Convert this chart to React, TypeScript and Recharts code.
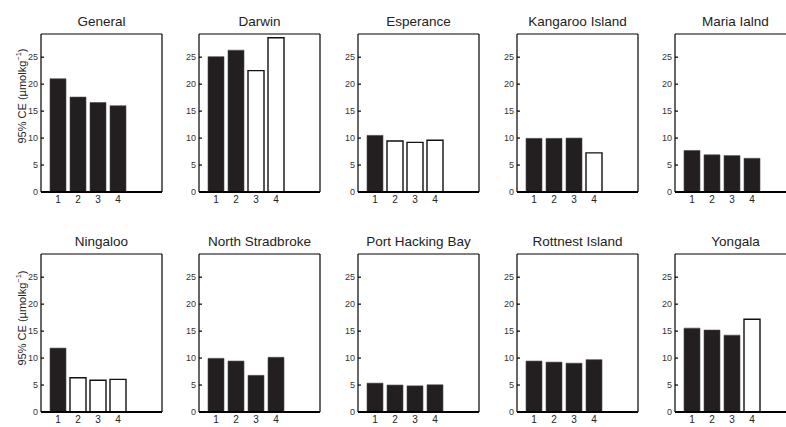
import { Bar, BarChart, Cell, XAxis, YAxis } from "recharts";

const categories = [1, 2, 3, 4];
const yTicks = [0, 5, 10, 15, 20, 25];

const siteNames = [
  "General",
  "Darwin",
  "Esperance",
  "Kangaroo Island",
  "Maria Ialnd",
  "Ningaloo",
  "North Stradbroke",
  "Port Hacking Bay",
  "Rottnest Island",
  "Yongala",
];

// 95% CE per site, categories 1..4
const ceValues = [
  [21.0, 17.6, 16.6, 16.0],
  [25.1, 26.3, 22.5, 28.6],
  [10.5, 9.45, 9.2, 9.6],
  [9.95, 9.95, 10.0, 7.25],
  [7.7, 6.9, 6.75, 6.25],
  [11.85, 6.35, 5.9, 6.05],
  [9.95, 9.45, 6.8, 10.15],
  [5.35, 5.0, 4.85, 5.05],
  [9.45, 9.25, 9.05, 9.7],
  [15.55, 15.2, 14.25, 17.2],
];

// true = solid bar, false = open bar
const solidBars = [
  [true, true, true, true],
  [true, true, false, false],
  [true, false, false, false],
  [true, true, true, false],
  [true, true, true, true],
  [true, false, false, false],
  [true, true, true, true],
  [true, true, true, true],
  [true, true, true, true],
  [true, true, true, false],
];

const colLefts = [41, 199, 358, 517, 675];
const rowTops = [34, 254];
const PLOT_W = 121;
const PLOT_H = 158;
const PAD_L = 30;
const PAD_T = 30;
const PAD_R = 6;
const AXIS_H = 18;
const FONT = '"Liberation Sans", Arial, Helvetica, sans-serif';
const DARK = "#231f20";

interface PanelProps {
  name: string;
  values: number[];
  solid: boolean[];
  left: number;
  top: number;
}

function Panel({ name, values, solid, left, top }: PanelProps) {
  const data = categories.map((c, i) => ({ x: c, ce: values[i] }));
  return (
    <div style={{ position: "absolute", left: left - PAD_L, top: top - PAD_T }}>
      <div
        style={{
          position: "absolute",
          left: PAD_L,
          width: PLOT_W,
          top: PAD_T - 20,
          textAlign: "center",
          fontSize: 13.5,
          color: "#222",
          whiteSpace: "nowrap",
          lineHeight: "15px",
        }}
      >
        {name}
      </div>
      <BarChart
        width={PAD_L + PLOT_W + PAD_R}
        height={PAD_T + PLOT_H + AXIS_H}
        data={data}
        margin={{ top: PAD_T - 1, right: PAD_R - 1, bottom: 0, left: 0 }}
      >
        <XAxis
          xAxisId="t"
          orientation="top"
          dataKey="x"
          type="number"
          domain={[0.15, 6.2]}
          ticks={categories}
          allowDataOverflow
          height={1}
          tick={false}
          tickSize={-3}
          stroke="#000"
          strokeWidth={1.2}
        />
        <XAxis
          xAxisId="b"
          dataKey="x"
          type="number"
          domain={[0.15, 6.2]}
          ticks={categories}
          allowDataOverflow
          height={AXIS_H}
          tickLine={false}
          tickSize={0}
          tickMargin={4}
          tick={{ fontSize: 10, fill: "#222", fontFamily: FONT }}
          axisLine={{ stroke: "#000", strokeWidth: 2 }}
        />
        <YAxis
          yAxisId="l"
          domain={[0, 29.3]}
          ticks={yTicks}
          allowDataOverflow
          width={PAD_L}
          tickSize={-3}
          tickMargin={6}
          tick={{ fontSize: 9, fill: "#333", fontFamily: FONT }}
          stroke="#000"
          strokeWidth={1.2}
        />
        <YAxis
          yAxisId="r"
          orientation="right"
          domain={[0, 29.3]}
          ticks={yTicks}
          allowDataOverflow
          width={1}
          tick={false}
          tickSize={-3}
          stroke="#000"
          strokeWidth={1.2}
        />
        <Bar
          dataKey="ce"
          xAxisId="b"
          yAxisId="l"
          barSize={16}
          isAnimationActive={false}
        >
          {data.map((d, i) => (
            <Cell
              key={d.x}
              fill={solid[i] ? DARK : "#fff"}
              stroke={solid[i] ? "#4a4a4a" : "#111"}
              strokeWidth={solid[i] ? 0.6 : 1.4}
            />
          ))}
        </Bar>
      </BarChart>
    </div>
  );
}

function YLabel({ y }: { y: number }) {
  return (
    <div
      style={{
        position: "absolute",
        left: 21,
        top: y,
        transform: "translate(-50%, -50%) rotate(-90deg)",
        whiteSpace: "nowrap",
        fontSize: 11,
        color: "#222",
      }}
    >
      95% CE (µmolkg<sup style={{ fontSize: 7.5 }}>−1</sup>)
    </div>
  );
}

export default function App() {
  return (
    <div
      style={{
        position: "absolute",
        left: 0,
        top: 0,
        width: 786,
        height: 427,
        overflow: "hidden",
        background: "#fff",
        fontFamily: FONT,
      }}
    >
      {siteNames.map((name, i) => (
        <Panel
          key={name}
          name={name}
          values={ceValues[i]}
          solid={solidBars[i]}
          left={colLefts[i % 5]}
          top={rowTops[Math.floor(i / 5)]}
        />
      ))}
      <YLabel y={96} />
      <YLabel y={318} />
    </div>
  );
}
